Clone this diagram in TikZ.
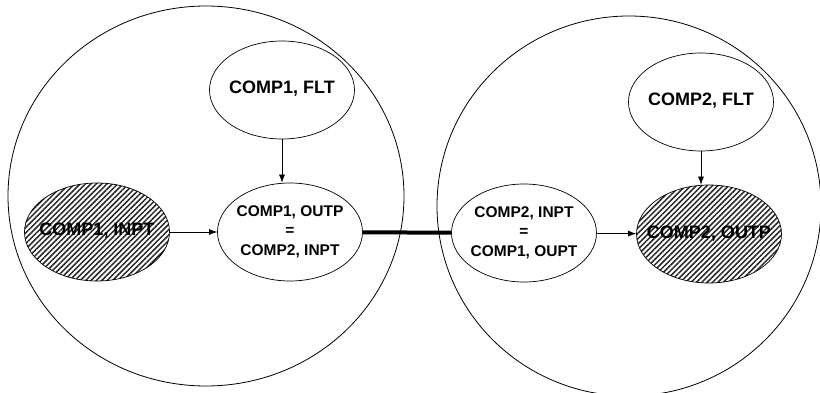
\documentclass[tikz,border=0pt]{standalone}
\usepackage{fontspec}
\setmainfont{Liberation Sans}
\usetikzlibrary{shapes,arrows.meta,patterns.meta}

% keeps the ellipse at its minimum size, whatever the text width
\newcommand{\vtext}[1]{\makebox[0pt]{\begin{tabular}{@{}c@{}}#1\end{tabular}}}

\begin{document}
\begin{tikzpicture}[x=1pt,y=-1pt]
			\tikzstyle{Comp}	= [ellipse, draw, line width=0.8pt, inner sep=0pt]
			\tikzstyle{Var} 	= [ellipse, draw, fill=white, line width=0.7pt, minimum width=145pt, minimum height=98pt, inner sep=0pt]
			\tikzstyle{Big}		= [font=\bfseries\fontsize{18}{20}\selectfont]
			\tikzstyle{Small}	= [font=\bfseries\fontsize{15.5}{19.7}\selectfont]
			\tikzstyle{Hatch}	= [pattern={Lines[angle=45, distance=3.8pt, line width=1.5pt]}, pattern color=black!85]
			\tikzstyle{Flow}	= [-{Latex[length=8pt, width=6pt]}, line width=0.7pt]
			\tikzstyle{Link}	= [line width=4pt]

			\useasboundingbox (0,0) rectangle (820,393);

			\node (comp1) at (206,196) [Comp, minimum width=396pt, minimum height=380pt] {};
			\node (comp2) at (629,206) [Comp, minimum width=384pt, minimum height=380pt] {};

			\node (flt1) at (282,90) [Var, Big] {\vtext{COMP1, FLT}};
			\node (inpt1) at (97,232) [Var, Big, Hatch] {\vtext{COMP1, INPT}};
			\node (outp1) at (290,232) [Var, Small] {\vtext{COMP1, OUTP\\=\\COMP2, INPT}};
			\node (inpt2) at (524,233) [Var, Small] {\vtext{COMP2, INPT\\=\\COMP1, OUPT}};
			\node (outp2) at (709,234) [Var, Big, Hatch] {\vtext{COMP2, OUTP}};
			\node (flt2) at (701,102) [Var, Big] {\vtext{COMP2, FLT}};

			\draw [Flow] (inpt1) to (outp1);
			\draw [Flow] (flt1) to (flt1 |- outp1.north);
			\draw [Link] (outp1) to (inpt2);
			\draw [Flow] (inpt2) to (outp2);
			\draw [Flow] (flt2) to (flt2 |- outp2.north);
		\end{tikzpicture}
\end{document}
